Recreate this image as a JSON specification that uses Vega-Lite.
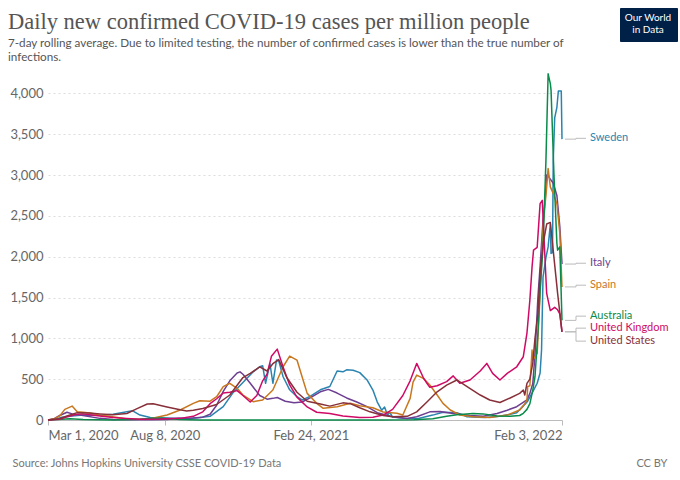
{
  "$schema": "https://vega.github.io/schema/vega-lite/v6.json",
  "width": 514,
  "height": 347,
  "autosize": {"type": "none"},
  "padding": {"left": 48, "top": 73, "right": 118, "bottom": 60},
  "background": "white",
  "config": {"view": {"stroke": null}, "font": "Lato"},
  "title": {
    "text": "Daily new confirmed COVID-19 cases per million people",
    "subtitle": ["7-day rolling average. Due to limited testing, the number of confirmed cases is lower than the true number of", "infections."],
    "anchor": "start",
    "frame": "group",
    "dx": -40,
    "offset": -56,
    "font": "Liberation Serif",
    "fontSize": 22.5,
    "fontWeight": "normal",
    "color": "#555555",
    "subtitleFont": "Lato",
    "subtitleFontSize": 11.7,
    "subtitleColor": "#555555",
    "subtitlePadding": 5,
    "subtitleLineHeight": 13.5
  },
  "datasets": {
    "labels": [
      {"country": "Sweden", "label_at": 3450},
      {"country": "Italy", "label_at": 1920},
      {"country": "Spain", "label_at": 1651},
      {"country": "Australia", "label_at": 1272},
      {"country": "United Kingdom", "label_at": 1125},
      {"country": "United States", "label_at": 966}
    ],
    "series": [
      {"country": "Sweden", "date": "2020-03-01", "cases": 0},
      {"country": "Sweden", "date": "2020-03-10", "cases": 8},
      {"country": "Sweden", "date": "2020-03-20", "cases": 35},
      {"country": "Sweden", "date": "2020-04-03", "cases": 50},
      {"country": "Sweden", "date": "2020-04-18", "cases": 60},
      {"country": "Sweden", "date": "2020-05-11", "cases": 58},
      {"country": "Sweden", "date": "2020-05-29", "cases": 70},
      {"country": "Sweden", "date": "2020-06-17", "cases": 100},
      {"country": "Sweden", "date": "2020-06-25", "cases": 112},
      {"country": "Sweden", "date": "2020-07-05", "cases": 60},
      {"country": "Sweden", "date": "2020-07-19", "cases": 30},
      {"country": "Sweden", "date": "2020-08-11", "cases": 25},
      {"country": "Sweden", "date": "2020-09-07", "cases": 15},
      {"country": "Sweden", "date": "2020-09-25", "cases": 30},
      {"country": "Sweden", "date": "2020-10-09", "cases": 45},
      {"country": "Sweden", "date": "2020-10-27", "cases": 163},
      {"country": "Sweden", "date": "2020-11-09", "cases": 330},
      {"country": "Sweden", "date": "2020-11-23", "cases": 460},
      {"country": "Sweden", "date": "2020-12-07", "cases": 590},
      {"country": "Sweden", "date": "2020-12-16", "cases": 652},
      {"country": "Sweden", "date": "2020-12-20", "cases": 665},
      {"country": "Sweden", "date": "2020-12-24", "cases": 450},
      {"country": "Sweden", "date": "2020-12-30", "cases": 690},
      {"country": "Sweden", "date": "2021-01-03", "cases": 450},
      {"country": "Sweden", "date": "2021-01-08", "cases": 734},
      {"country": "Sweden", "date": "2021-01-11", "cases": 725},
      {"country": "Sweden", "date": "2021-01-17", "cases": 530},
      {"country": "Sweden", "date": "2021-01-26", "cases": 370},
      {"country": "Sweden", "date": "2021-02-05", "cases": 285},
      {"country": "Sweden", "date": "2021-02-12", "cases": 245},
      {"country": "Sweden", "date": "2021-02-23", "cases": 290},
      {"country": "Sweden", "date": "2021-03-09", "cases": 370},
      {"country": "Sweden", "date": "2021-03-22", "cases": 410},
      {"country": "Sweden", "date": "2021-04-01", "cases": 600},
      {"country": "Sweden", "date": "2021-04-09", "cases": 590},
      {"country": "Sweden", "date": "2021-04-14", "cases": 615},
      {"country": "Sweden", "date": "2021-04-23", "cases": 610},
      {"country": "Sweden", "date": "2021-05-02", "cases": 580},
      {"country": "Sweden", "date": "2021-05-12", "cases": 490},
      {"country": "Sweden", "date": "2021-05-20", "cases": 367},
      {"country": "Sweden", "date": "2021-05-26", "cases": 220},
      {"country": "Sweden", "date": "2021-06-01", "cases": 120},
      {"country": "Sweden", "date": "2021-06-05", "cases": 160},
      {"country": "Sweden", "date": "2021-06-09", "cases": 60},
      {"country": "Sweden", "date": "2021-06-12", "cases": 95},
      {"country": "Sweden", "date": "2021-06-16", "cases": 36},
      {"country": "Sweden", "date": "2021-07-01", "cases": 20},
      {"country": "Sweden", "date": "2021-07-20", "cases": 15},
      {"country": "Sweden", "date": "2021-08-10", "cases": 60},
      {"country": "Sweden", "date": "2021-08-24", "cases": 95},
      {"country": "Sweden", "date": "2021-09-12", "cases": 90},
      {"country": "Sweden", "date": "2021-09-26", "cases": 40},
      {"country": "Sweden", "date": "2021-10-20", "cases": 30},
      {"country": "Sweden", "date": "2021-11-10", "cases": 45},
      {"country": "Sweden", "date": "2021-11-24", "cases": 70},
      {"country": "Sweden", "date": "2021-12-03", "cases": 90},
      {"country": "Sweden", "date": "2021-12-12", "cases": 170},
      {"country": "Sweden", "date": "2021-12-18", "cases": 230},
      {"country": "Sweden", "date": "2021-12-24", "cases": 330},
      {"country": "Sweden", "date": "2021-12-31", "cases": 450},
      {"country": "Sweden", "date": "2022-01-04", "cases": 575},
      {"country": "Sweden", "date": "2022-01-06", "cases": 860},
      {"country": "Sweden", "date": "2022-01-08", "cases": 1750},
      {"country": "Sweden", "date": "2022-01-12", "cases": 1990},
      {"country": "Sweden", "date": "2022-01-15", "cases": 2120},
      {"country": "Sweden", "date": "2022-01-18", "cases": 2400},
      {"country": "Sweden", "date": "2022-01-19", "cases": 2040},
      {"country": "Sweden", "date": "2022-01-21", "cases": 2050},
      {"country": "Sweden", "date": "2022-01-22", "cases": 3180},
      {"country": "Sweden", "date": "2022-01-24", "cases": 3700},
      {"country": "Sweden", "date": "2022-01-27", "cases": 3830},
      {"country": "Sweden", "date": "2022-01-29", "cases": 4030},
      {"country": "Sweden", "date": "2022-02-02", "cases": 4030},
      {"country": "Sweden", "date": "2022-02-03", "cases": 3440},

      {"country": "Italy", "date": "2020-03-01", "cases": 0},
      {"country": "Italy", "date": "2020-03-10", "cases": 20},
      {"country": "Italy", "date": "2020-03-17", "cases": 55},
      {"country": "Italy", "date": "2020-03-27", "cases": 95},
      {"country": "Italy", "date": "2020-04-03", "cases": 75},
      {"country": "Italy", "date": "2020-04-18", "cases": 55},
      {"country": "Italy", "date": "2020-05-11", "cases": 20},
      {"country": "Italy", "date": "2020-05-29", "cases": 7},
      {"country": "Italy", "date": "2020-06-21", "cases": 4},
      {"country": "Italy", "date": "2020-07-19", "cases": 4},
      {"country": "Italy", "date": "2020-08-11", "cases": 7},
      {"country": "Italy", "date": "2020-08-29", "cases": 20},
      {"country": "Italy", "date": "2020-09-16", "cases": 25},
      {"country": "Italy", "date": "2020-09-29", "cases": 35},
      {"country": "Italy", "date": "2020-10-09", "cases": 70},
      {"country": "Italy", "date": "2020-10-18", "cases": 180},
      {"country": "Italy", "date": "2020-10-27", "cases": 350},
      {"country": "Italy", "date": "2020-11-05", "cases": 480},
      {"country": "Italy", "date": "2020-11-15", "cases": 575},
      {"country": "Italy", "date": "2020-11-19", "cases": 590},
      {"country": "Italy", "date": "2020-11-23", "cases": 560},
      {"country": "Italy", "date": "2020-12-03", "cases": 450},
      {"country": "Italy", "date": "2020-12-16", "cases": 300},
      {"country": "Italy", "date": "2020-12-26", "cases": 255},
      {"country": "Italy", "date": "2021-01-03", "cases": 265},
      {"country": "Italy", "date": "2021-01-09", "cases": 275},
      {"country": "Italy", "date": "2021-01-20", "cases": 230},
      {"country": "Italy", "date": "2021-02-01", "cases": 210},
      {"country": "Italy", "date": "2021-02-12", "cases": 220},
      {"country": "Italy", "date": "2021-02-23", "cases": 270},
      {"country": "Italy", "date": "2021-03-09", "cases": 345},
      {"country": "Italy", "date": "2021-03-20", "cases": 375},
      {"country": "Italy", "date": "2021-04-01", "cases": 330},
      {"country": "Italy", "date": "2021-04-14", "cases": 270},
      {"country": "Italy", "date": "2021-04-28", "cases": 220},
      {"country": "Italy", "date": "2021-05-12", "cases": 163},
      {"country": "Italy", "date": "2021-05-26", "cases": 90},
      {"country": "Italy", "date": "2021-06-16", "cases": 40},
      {"country": "Italy", "date": "2021-07-06", "cases": 18},
      {"country": "Italy", "date": "2021-07-19", "cases": 40},
      {"country": "Italy", "date": "2021-08-06", "cases": 100},
      {"country": "Italy", "date": "2021-08-20", "cases": 105},
      {"country": "Italy", "date": "2021-09-07", "cases": 80},
      {"country": "Italy", "date": "2021-09-30", "cases": 55},
      {"country": "Italy", "date": "2021-10-18", "cases": 45},
      {"country": "Italy", "date": "2021-11-06", "cases": 80},
      {"country": "Italy", "date": "2021-11-20", "cases": 120},
      {"country": "Italy", "date": "2021-12-03", "cases": 163},
      {"country": "Italy", "date": "2021-12-17", "cases": 245},
      {"country": "Italy", "date": "2021-12-21", "cases": 326},
      {"country": "Italy", "date": "2021-12-25", "cases": 449},
      {"country": "Italy", "date": "2021-12-28", "cases": 800},
      {"country": "Italy", "date": "2022-01-01", "cases": 1500},
      {"country": "Italy", "date": "2022-01-04", "cases": 1880},
      {"country": "Italy", "date": "2022-01-08", "cases": 2450},
      {"country": "Italy", "date": "2022-01-11", "cases": 2700},
      {"country": "Italy", "date": "2022-01-13", "cases": 3000},
      {"country": "Italy", "date": "2022-01-15", "cases": 2990},
      {"country": "Italy", "date": "2022-01-18", "cases": 2950},
      {"country": "Italy", "date": "2022-01-22", "cases": 2900},
      {"country": "Italy", "date": "2022-01-27", "cases": 2750},
      {"country": "Italy", "date": "2022-01-31", "cases": 2370},
      {"country": "Italy", "date": "2022-02-03", "cases": 1910},

      {"country": "Spain", "date": "2020-03-01", "cases": 0},
      {"country": "Spain", "date": "2020-03-10", "cases": 15},
      {"country": "Spain", "date": "2020-03-17", "cases": 50},
      {"country": "Spain", "date": "2020-03-24", "cases": 130},
      {"country": "Spain", "date": "2020-04-03", "cases": 170},
      {"country": "Spain", "date": "2020-04-10", "cases": 100},
      {"country": "Spain", "date": "2020-04-18", "cases": 95},
      {"country": "Spain", "date": "2020-04-27", "cases": 85},
      {"country": "Spain", "date": "2020-05-11", "cases": 61},
      {"country": "Spain", "date": "2020-05-29", "cases": 40},
      {"country": "Spain", "date": "2020-06-17", "cases": 12},
      {"country": "Spain", "date": "2020-07-05", "cases": 10},
      {"country": "Spain", "date": "2020-07-19", "cases": 15},
      {"country": "Spain", "date": "2020-08-11", "cases": 61},
      {"country": "Spain", "date": "2020-08-29", "cases": 122},
      {"country": "Spain", "date": "2020-09-16", "cases": 204},
      {"country": "Spain", "date": "2020-09-25", "cases": 236},
      {"country": "Spain", "date": "2020-10-09", "cases": 230},
      {"country": "Spain", "date": "2020-10-18", "cases": 285},
      {"country": "Spain", "date": "2020-10-27", "cases": 408},
      {"country": "Spain", "date": "2020-11-05", "cases": 450},
      {"country": "Spain", "date": "2020-11-15", "cases": 388},
      {"country": "Spain", "date": "2020-11-23", "cases": 306},
      {"country": "Spain", "date": "2020-12-07", "cases": 224},
      {"country": "Spain", "date": "2020-12-20", "cases": 245},
      {"country": "Spain", "date": "2021-01-03", "cases": 367},
      {"country": "Spain", "date": "2021-01-17", "cases": 652},
      {"country": "Spain", "date": "2021-01-26", "cases": 783},
      {"country": "Spain", "date": "2021-02-05", "cases": 734},
      {"country": "Spain", "date": "2021-02-12", "cases": 530},
      {"country": "Spain", "date": "2021-02-19", "cases": 326},
      {"country": "Spain", "date": "2021-03-04", "cases": 204},
      {"country": "Spain", "date": "2021-03-13", "cases": 143},
      {"country": "Spain", "date": "2021-04-01", "cases": 163},
      {"country": "Spain", "date": "2021-04-19", "cases": 204},
      {"country": "Spain", "date": "2021-05-02", "cases": 175},
      {"country": "Spain", "date": "2021-05-20", "cases": 150},
      {"country": "Spain", "date": "2021-06-03", "cases": 98},
      {"country": "Spain", "date": "2021-06-22", "cases": 82},
      {"country": "Spain", "date": "2021-06-30", "cases": 61},
      {"country": "Spain", "date": "2021-07-10", "cases": 265},
      {"country": "Spain", "date": "2021-07-14", "cases": 465},
      {"country": "Spain", "date": "2021-07-19", "cases": 550},
      {"country": "Spain", "date": "2021-07-28", "cases": 510},
      {"country": "Spain", "date": "2021-08-06", "cases": 428},
      {"country": "Spain", "date": "2021-08-16", "cases": 306},
      {"country": "Spain", "date": "2021-08-24", "cases": 204},
      {"country": "Spain", "date": "2021-09-03", "cases": 122},
      {"country": "Spain", "date": "2021-09-16", "cases": 61},
      {"country": "Spain", "date": "2021-10-04", "cases": 40},
      {"country": "Spain", "date": "2021-10-27", "cases": 30},
      {"country": "Spain", "date": "2021-11-20", "cases": 60},
      {"country": "Spain", "date": "2021-12-07", "cases": 122},
      {"country": "Spain", "date": "2021-12-14", "cases": 200},
      {"country": "Spain", "date": "2021-12-17", "cases": 245},
      {"country": "Spain", "date": "2021-12-18", "cases": 408},
      {"country": "Spain", "date": "2021-12-21", "cases": 420},
      {"country": "Spain", "date": "2021-12-24", "cases": 856},
      {"country": "Spain", "date": "2021-12-25", "cases": 734},
      {"country": "Spain", "date": "2021-12-31", "cases": 815},
      {"country": "Spain", "date": "2022-01-04", "cases": 1550},
      {"country": "Spain", "date": "2022-01-08", "cases": 2365},
      {"country": "Spain", "date": "2022-01-13", "cases": 2855},
      {"country": "Spain", "date": "2022-01-15", "cases": 3080},
      {"country": "Spain", "date": "2022-01-18", "cases": 2855},
      {"country": "Spain", "date": "2022-01-22", "cases": 2775},
      {"country": "Spain", "date": "2022-01-27", "cases": 2650},
      {"country": "Spain", "date": "2022-01-31", "cases": 2285},
      {"country": "Spain", "date": "2022-02-03", "cases": 1630},

      {"country": "Australia", "date": "2020-03-01", "cases": 0},
      {"country": "Australia", "date": "2020-03-20", "cases": 8},
      {"country": "Australia", "date": "2020-03-31", "cases": 16},
      {"country": "Australia", "date": "2020-04-18", "cases": 5},
      {"country": "Australia", "date": "2020-05-29", "cases": 1},
      {"country": "Australia", "date": "2020-07-05", "cases": 8},
      {"country": "Australia", "date": "2020-07-23", "cases": 20},
      {"country": "Australia", "date": "2020-08-05", "cases": 22},
      {"country": "Australia", "date": "2020-08-29", "cases": 6},
      {"country": "Australia", "date": "2020-09-25", "cases": 1},
      {"country": "Australia", "date": "2021-06-01", "cases": 1},
      {"country": "Australia", "date": "2021-07-15", "cases": 4},
      {"country": "Australia", "date": "2021-08-10", "cases": 15},
      {"country": "Australia", "date": "2021-08-29", "cases": 45},
      {"country": "Australia", "date": "2021-09-12", "cases": 65},
      {"country": "Australia", "date": "2021-10-04", "cases": 80},
      {"country": "Australia", "date": "2021-10-18", "cases": 75},
      {"country": "Australia", "date": "2021-11-06", "cases": 50},
      {"country": "Australia", "date": "2021-11-24", "cases": 45},
      {"country": "Australia", "date": "2021-12-07", "cases": 55},
      {"country": "Australia", "date": "2021-12-12", "cases": 82},
      {"country": "Australia", "date": "2021-12-17", "cases": 130},
      {"country": "Australia", "date": "2021-12-21", "cases": 200},
      {"country": "Australia", "date": "2021-12-25", "cases": 367},
      {"country": "Australia", "date": "2021-12-28", "cases": 530},
      {"country": "Australia", "date": "2022-01-01", "cases": 1065},
      {"country": "Australia", "date": "2022-01-04", "cases": 1590},
      {"country": "Australia", "date": "2022-01-08", "cases": 2115},
      {"country": "Australia", "date": "2022-01-12", "cases": 3180},
      {"country": "Australia", "date": "2022-01-15", "cases": 4240},
      {"country": "Australia", "date": "2022-01-18", "cases": 4120},
      {"country": "Australia", "date": "2022-01-19", "cases": 4040},
      {"country": "Australia", "date": "2022-01-23", "cases": 3000},
      {"country": "Australia", "date": "2022-01-27", "cases": 2165},
      {"country": "Australia", "date": "2022-01-28", "cases": 2080},
      {"country": "Australia", "date": "2022-01-31", "cases": 2120},
      {"country": "Australia", "date": "2022-02-03", "cases": 1220},

      {"country": "United Kingdom", "date": "2020-03-01", "cases": 0},
      {"country": "United Kingdom", "date": "2020-03-17", "cases": 10},
      {"country": "United Kingdom", "date": "2020-03-27", "cases": 40},
      {"country": "United Kingdom", "date": "2020-04-10", "cases": 70},
      {"country": "United Kingdom", "date": "2020-04-18", "cases": 75},
      {"country": "United Kingdom", "date": "2020-04-27", "cases": 65},
      {"country": "United Kingdom", "date": "2020-05-11", "cases": 50},
      {"country": "United Kingdom", "date": "2020-05-29", "cases": 30},
      {"country": "United Kingdom", "date": "2020-06-17", "cases": 18},
      {"country": "United Kingdom", "date": "2020-07-05", "cases": 10},
      {"country": "United Kingdom", "date": "2020-08-01", "cases": 12},
      {"country": "United Kingdom", "date": "2020-08-29", "cases": 20},
      {"country": "United Kingdom", "date": "2020-09-16", "cases": 45},
      {"country": "United Kingdom", "date": "2020-09-29", "cases": 100},
      {"country": "United Kingdom", "date": "2020-10-09", "cases": 200},
      {"country": "United Kingdom", "date": "2020-10-18", "cases": 260},
      {"country": "United Kingdom", "date": "2020-10-27", "cases": 330},
      {"country": "United Kingdom", "date": "2020-11-05", "cases": 340},
      {"country": "United Kingdom", "date": "2020-11-15", "cases": 360},
      {"country": "United Kingdom", "date": "2020-11-23", "cases": 300},
      {"country": "United Kingdom", "date": "2020-12-03", "cases": 220},
      {"country": "United Kingdom", "date": "2020-12-12", "cases": 300},
      {"country": "United Kingdom", "date": "2020-12-20", "cases": 480},
      {"country": "United Kingdom", "date": "2020-12-26", "cases": 560},
      {"country": "United Kingdom", "date": "2021-01-01", "cases": 780},
      {"country": "United Kingdom", "date": "2021-01-09", "cases": 868},
      {"country": "United Kingdom", "date": "2021-01-17", "cases": 650},
      {"country": "United Kingdom", "date": "2021-01-26", "cases": 430},
      {"country": "United Kingdom", "date": "2021-02-05", "cases": 280},
      {"country": "United Kingdom", "date": "2021-02-19", "cases": 160},
      {"country": "United Kingdom", "date": "2021-03-04", "cases": 95},
      {"country": "United Kingdom", "date": "2021-03-22", "cases": 80},
      {"country": "United Kingdom", "date": "2021-04-09", "cases": 50},
      {"country": "United Kingdom", "date": "2021-05-02", "cases": 30},
      {"country": "United Kingdom", "date": "2021-05-20", "cases": 35},
      {"country": "United Kingdom", "date": "2021-06-03", "cases": 60},
      {"country": "United Kingdom", "date": "2021-06-16", "cases": 130},
      {"country": "United Kingdom", "date": "2021-06-30", "cases": 300},
      {"country": "United Kingdom", "date": "2021-07-10", "cases": 480},
      {"country": "United Kingdom", "date": "2021-07-19", "cases": 693},
      {"country": "United Kingdom", "date": "2021-07-28", "cases": 520},
      {"country": "United Kingdom", "date": "2021-08-02", "cases": 450},
      {"country": "United Kingdom", "date": "2021-08-06", "cases": 400},
      {"country": "United Kingdom", "date": "2021-08-16", "cases": 420},
      {"country": "United Kingdom", "date": "2021-08-29", "cases": 470},
      {"country": "United Kingdom", "date": "2021-09-07", "cases": 540},
      {"country": "United Kingdom", "date": "2021-09-16", "cases": 450},
      {"country": "United Kingdom", "date": "2021-09-30", "cases": 490},
      {"country": "United Kingdom", "date": "2021-10-14", "cases": 600},
      {"country": "United Kingdom", "date": "2021-10-23", "cases": 693},
      {"country": "United Kingdom", "date": "2021-10-31", "cases": 571},
      {"country": "United Kingdom", "date": "2021-11-10", "cases": 490},
      {"country": "United Kingdom", "date": "2021-11-20", "cases": 571},
      {"country": "United Kingdom", "date": "2021-12-03", "cases": 652},
      {"country": "United Kingdom", "date": "2021-12-12", "cases": 775},
      {"country": "United Kingdom", "date": "2021-12-17", "cases": 1065},
      {"country": "United Kingdom", "date": "2021-12-21", "cases": 1470},
      {"country": "United Kingdom", "date": "2021-12-24", "cases": 1875},
      {"country": "United Kingdom", "date": "2021-12-26", "cases": 2080},
      {"country": "United Kingdom", "date": "2021-12-31", "cases": 2115},
      {"country": "United Kingdom", "date": "2022-01-04", "cases": 2650},
      {"country": "United Kingdom", "date": "2022-01-07", "cases": 2690},
      {"country": "United Kingdom", "date": "2022-01-09", "cases": 2300},
      {"country": "United Kingdom", "date": "2022-01-13", "cases": 1550},
      {"country": "United Kingdom", "date": "2022-01-18", "cases": 1340},
      {"country": "United Kingdom", "date": "2022-01-24", "cases": 1380},
      {"country": "United Kingdom", "date": "2022-01-28", "cases": 1350},
      {"country": "United Kingdom", "date": "2022-01-31", "cases": 1300},
      {"country": "United Kingdom", "date": "2022-02-03", "cases": 1080},

      {"country": "United States", "date": "2020-03-01", "cases": 0},
      {"country": "United States", "date": "2020-03-17", "cases": 15},
      {"country": "United States", "date": "2020-03-27", "cases": 50},
      {"country": "United States", "date": "2020-04-10", "cases": 90},
      {"country": "United States", "date": "2020-04-27", "cases": 85},
      {"country": "United States", "date": "2020-05-11", "cases": 75},
      {"country": "United States", "date": "2020-05-29", "cases": 65},
      {"country": "United States", "date": "2020-06-17", "cases": 80},
      {"country": "United States", "date": "2020-07-01", "cases": 140},
      {"country": "United States", "date": "2020-07-15", "cases": 196},
      {"country": "United States", "date": "2020-07-23", "cases": 200},
      {"country": "United States", "date": "2020-08-11", "cases": 160},
      {"country": "United States", "date": "2020-08-29", "cases": 125},
      {"country": "United States", "date": "2020-09-07", "cases": 110},
      {"country": "United States", "date": "2020-09-16", "cases": 120},
      {"country": "United States", "date": "2020-09-29", "cases": 140},
      {"country": "United States", "date": "2020-10-18", "cases": 190},
      {"country": "United States", "date": "2020-11-05", "cases": 306},
      {"country": "United States", "date": "2020-11-23", "cases": 520},
      {"country": "United States", "date": "2020-12-03", "cases": 570},
      {"country": "United States", "date": "2020-12-16", "cases": 650},
      {"country": "United States", "date": "2020-12-26", "cases": 600},
      {"country": "United States", "date": "2021-01-03", "cases": 690},
      {"country": "United States", "date": "2021-01-11", "cases": 740},
      {"country": "United States", "date": "2021-01-22", "cases": 520},
      {"country": "United States", "date": "2021-02-05", "cases": 340},
      {"country": "United States", "date": "2021-02-19", "cases": 230},
      {"country": "United States", "date": "2021-03-09", "cases": 195},
      {"country": "United States", "date": "2021-03-22", "cases": 170},
      {"country": "United States", "date": "2021-04-09", "cases": 210},
      {"country": "United States", "date": "2021-04-19", "cases": 200},
      {"country": "United States", "date": "2021-05-02", "cases": 150},
      {"country": "United States", "date": "2021-05-16", "cases": 100},
      {"country": "United States", "date": "2021-06-03", "cases": 55},
      {"country": "United States", "date": "2021-06-16", "cases": 40},
      {"country": "United States", "date": "2021-07-06", "cases": 45},
      {"country": "United States", "date": "2021-07-19", "cases": 100},
      {"country": "United States", "date": "2021-08-02", "cases": 220},
      {"country": "United States", "date": "2021-08-16", "cases": 345},
      {"country": "United States", "date": "2021-08-29", "cases": 428},
      {"country": "United States", "date": "2021-09-12", "cases": 490},
      {"country": "United States", "date": "2021-09-26", "cases": 408},
      {"country": "United States", "date": "2021-10-14", "cases": 306},
      {"country": "United States", "date": "2021-10-27", "cases": 245},
      {"country": "United States", "date": "2021-11-10", "cases": 215},
      {"country": "United States", "date": "2021-11-24", "cases": 270},
      {"country": "United States", "date": "2021-12-07", "cases": 326},
      {"country": "United States", "date": "2021-12-12", "cases": 367},
      {"country": "United States", "date": "2021-12-14", "cases": 306},
      {"country": "United States", "date": "2021-12-17", "cases": 449},
      {"country": "United States", "date": "2021-12-21", "cases": 500},
      {"country": "United States", "date": "2021-12-25", "cases": 700},
      {"country": "United States", "date": "2021-12-28", "cases": 1000},
      {"country": "United States", "date": "2022-01-01", "cases": 1300},
      {"country": "United States", "date": "2022-01-04", "cases": 1800},
      {"country": "United States", "date": "2022-01-08", "cases": 2150},
      {"country": "United States", "date": "2022-01-13", "cases": 2400},
      {"country": "United States", "date": "2022-01-18", "cases": 2420},
      {"country": "United States", "date": "2022-01-20", "cases": 2250},
      {"country": "United States", "date": "2022-01-24", "cases": 1900},
      {"country": "United States", "date": "2022-01-28", "cases": 1550},
      {"country": "United States", "date": "2022-02-03", "cases": 1080}
    ]
  },
  "layer": [
    {
      "data": {"name": "series"},
      "mark": {"type": "line", "strokeWidth": 1.5, "strokeJoin": "round"},
      "encoding": {
        "x": {
          "field": "date",
          "type": "temporal",
          "scale": {"type": "utc", "domain": [{"year": 2020, "month": 3, "date": 1, "utc": true}, {"year": 2022, "month": 2, "date": 3, "utc": true}]},
          "axis": {
            "title": "Source: Johns Hopkins University CSSE COVID-19 Data",
            "titleX": -36,
            "titleY": 46,
            "titleAlign": "left",
            "titleAnchor": "start",
            "titleBaseline": "alphabetic",
            "titleFont": "Lato",
            "titleFontSize": 11,
            "titleFontWeight": "normal",
            "titleColor": "#777777",
            "values": [
              {"year": 2020, "month": 3, "date": 1, "utc": true},
              {"year": 2020, "month": 8, "date": 8, "utc": true},
              {"year": 2021, "month": 2, "date": 24, "utc": true},
              {"year": 2022, "month": 2, "date": 3, "utc": true}
            ],
            "format": "%b %-d, %Y",
            "labelFlush": true,
            "labelFontSize": 13,
            "labelColor": "#666666",
            "labelPadding": 4,
            "grid": false,
            "domainColor": "#bbbbbb",
            "tickColor": "#bbbbbb",
            "tickSize": 5
          }
        },
        "y": {
          "field": "cases",
          "type": "quantitative",
          "scale": {"domain": [0, 4250], "nice": false},
          "axis": {
            "title": "CC BY",
            "titleAngle": 0,
            "titleX": 619,
            "titleY": 393,
            "titleAlign": "right",
            "titleBaseline": "alphabetic",
            "titleFont": "Lato",
            "titleFontSize": 11,
            "titleFontWeight": "normal",
            "titleColor": "#777777",
            "values": [0, 500, 1000, 1500, 2000, 2500, 3000, 3500, 4000],
            "format": ",.0f",
            "domain": false,
            "ticks": false,
            "labelFontSize": 13,
            "labelColor": "#666666",
            "labelPadding": 5,
            "gridColor": "#dddddd",
            "gridDash": [2, 3]
          }
        },
        "color": {
          "field": "country",
          "type": "nominal",
          "scale": {
            "domain": ["Sweden", "Italy", "Spain", "Australia", "United Kingdom", "United States"],
            "range": ["#2a84b0", "#6d3e91", "#c8771f", "#0a8b4a", "#cf0a66", "#883039"]
          },
          "legend": {
            "orient": "none",
            "legendX": 572,
            "legendY": -65,
            "values": ["Sweden"],
            "title": ["Our World", "in Data"],
            "titleColor": "white",
            "titleFont": "Lato",
            "titleFontSize": 10,
            "titleFontWeight": "normal",
            "titleLineHeight": 12,
            "titleAnchor": "middle",
            "titlePadding": 0,
            "fillColor": "#002147",
            "strokeColor": "#002147",
            "padding": 5,
            "symbolOpacity": 0,
            "symbolSize": 1,
            "symbolStrokeWidth": 0,
            "labelOpacity": 0,
            "labelFontSize": 1,
            "labelLimit": 1
          }
        }
      }
    },
    {
      "data": {"name": "series"},
      "transform": [
        {"filter": "time(datum.date) === utc(2022, 1, 3)"},
        {"lookup": "country", "from": {"data": {"name": "labels"}, "key": "country", "fields": ["label_at"]}}
      ],
      "mark": {"type": "rule", "xOffset": 3, "x2Offset": 14, "color": "#bbbbbb", "strokeWidth": 1},
      "encoding": {
        "x": {"field": "date", "type": "temporal"},
        "x2": {"field": "date"},
        "y": {"field": "cases", "type": "quantitative"}
      }
    },
    {
      "data": {"name": "series"},
      "transform": [
        {"filter": "time(datum.date) === utc(2022, 1, 3)"},
        {"lookup": "country", "from": {"data": {"name": "labels"}, "key": "country", "fields": ["label_at"]}}
      ],
      "mark": {"type": "rule", "xOffset": 14, "color": "#bbbbbb", "strokeWidth": 1},
      "encoding": {
        "x": {"field": "date", "type": "temporal"},
        "y": {"field": "cases", "type": "quantitative"},
        "y2": {"field": "label_at"}
      }
    },
    {
      "data": {"name": "series"},
      "transform": [
        {"filter": "time(datum.date) === utc(2022, 1, 3)"},
        {"lookup": "country", "from": {"data": {"name": "labels"}, "key": "country", "fields": ["label_at"]}}
      ],
      "mark": {"type": "rule", "xOffset": 14, "x2Offset": 24, "color": "#bbbbbb", "strokeWidth": 1},
      "encoding": {
        "x": {"field": "date", "type": "temporal"},
        "x2": {"field": "date"},
        "y": {"field": "label_at", "type": "quantitative"}
      }
    },
    {
      "data": {"name": "series"},
      "transform": [
        {"filter": "time(datum.date) === utc(2022, 1, 3)"},
        {"lookup": "country", "from": {"data": {"name": "labels"}, "key": "country", "fields": ["label_at"]}}
      ],
      "mark": {"type": "text", "align": "left", "baseline": "middle", "dx": 28, "fontSize": 11, "font": "Lato"},
      "encoding": {
        "x": {"field": "date", "type": "temporal"},
        "y": {"field": "label_at", "type": "quantitative"},
        "text": {"field": "country"},
        "color": {"field": "country", "type": "nominal"}
      }
    }
  ]
}
